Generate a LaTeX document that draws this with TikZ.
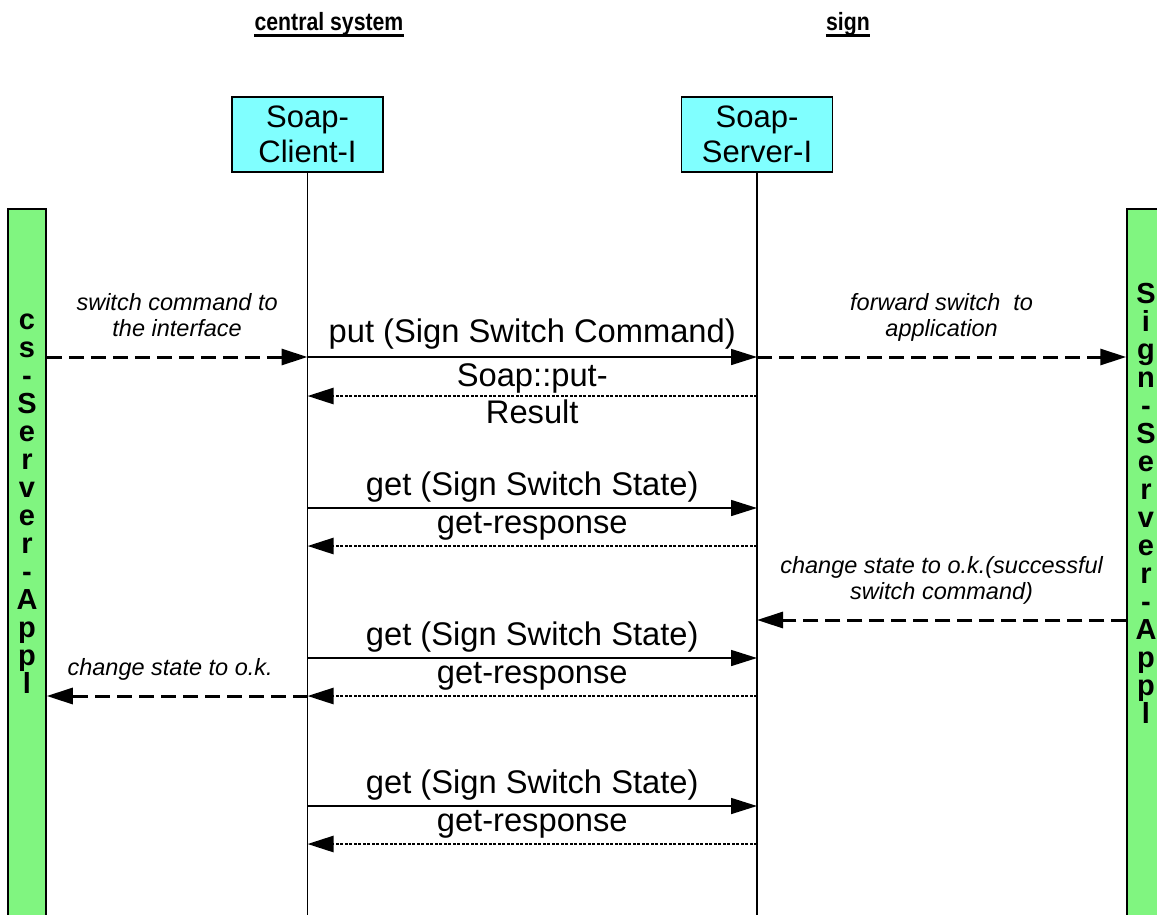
\documentclass[tikz,border=0pt]{standalone}
\usepackage{fontspec}
\setmainfont{Liberation Sans}
\newfontfamily\titlefont{Liberation Sans}[FakeStretch=0.85]
\usetikzlibrary{positioning,arrows.meta}
\definecolor{ifcyan}{RGB}{128,255,255}
\definecolor{appgreen}{RGB}{128,245,128}

\begin{document}
\begin{tikzpicture}[x=1pt, y=-1pt,
  ifbox/.style={draw, fill=ifcyan, line width=1.5pt, minimum width=151pt, minimum height=75pt, align=center, inner sep=0pt, font=\fontsize{31}{35}\selectfont},
  appbar/.style={draw, fill=appgreen, line width=1.5pt, minimum width=38pt, minimum height=760pt, anchor=north, inner sep=0pt},
  barletters/.style={align=center, inner sep=0pt, font=\bfseries\fontsize{29}{28}\selectfont},
  title/.style={anchor=base, inner sep=0pt, font=\titlefont\bfseries\fontsize{25}{27}\selectfont},
  titlerule/.style={line width=2.5pt},
  lifeline/.style={line width=1.6pt},
  call/.style={-{Triangle[length=26pt,width=16pt]}, line width=1.6pt},
  answer/.style={call, line width=2.5pt, dash pattern=on 3pt off 1.5pt},
  appmsg/.style={call, line width=3pt, dash pattern=on 15pt off 7pt},
  calltext/.style={midway, anchor=base, inner sep=0pt, font=\fontsize{32.7}{36}\selectfont},
  apptext/.style={midway, anchor=south, yshift=14pt, inner sep=0pt, align=center, font=\itshape\fontsize{23.5}{26}\selectfont}]
\useasboundingbox (0,0) rectangle (1157,914);
\clip (0,0) rectangle (1157,914);

% titles
\node[title] (tcentral) at (329,30) {central system};
\node[title] (tsign) at (848,30) {sign};
\draw[titlerule] (tcentral.south west) -- (tcentral.south east);
\draw[titlerule] (tsign.south west) -- (tsign.south east);

% interfaces and lifelines
\node[ifbox] (client) at (307.5,134.5) {Soap-\\Client-I};
\node[ifbox] (server) [right=297pt of client] {Soap-\\Server-I};
\coordinate (clientend) at (client.south |- 0,930);
\coordinate (serverend) at (server.south |- 0,930);
\draw[lifeline] (client) -- (clientend);
\draw[lifeline] (server) -- (serverend);

% applications
\node[appbar] (csapp) at (27,208) {};
\node[appbar] (signapp) at (1146,208) {};
\node[barletters] (csname) at (27,504) {c\\s\\-\\S\\e\\r\\v\\e\\r\\-\\A\\p\\p\\l};
\node[barletters] (signname) at (1146,503) {S\\i\\g\\n\\-\\S\\e\\r\\v\\e\\r\\-\\A\\p\\p\\l};

% switch command
\draw[appmsg] (csapp.east |- 0,357) -- node[apptext] (lswitch) {switch command to\\the interface\vphantom{p}} (client |- 0,357);
\draw[call] (client |- 0,357) -- node[calltext, yshift=15pt] (lput) {put (Sign Switch Command)} (server |- 0,357);
\draw[appmsg] (server |- 0,357) -- node[apptext] (lforward) {forward switch~ to\\application} (signapp.west |- 0,357);
\draw[answer] (server |- 0,396) -- node[calltext, yshift=10pt] (lres) {Soap::put-} node[calltext, yshift=-27pt] (lresult) {Result} (client |- 0,396);

% polling
\draw[call] (client |- 0,508) -- node[calltext, yshift=13pt] (lget1) {get (Sign Switch State)} (server |- 0,508);
\draw[answer] (server |- 0,546) -- node[calltext, yshift=13pt] (lresp1) {get-response} (client |- 0,546);
\draw[appmsg] (signapp.west |- 0,620) -- node[apptext] (lchange) {change state to o.k.(successful\\switch command)} (server |- 0,620);
\draw[call] (client |- 0,658) -- node[calltext, yshift=13pt] (lget2) {get (Sign Switch State)} (server |- 0,658);
\draw[answer] (server |- 0,696) -- node[calltext, yshift=13pt] (lresp2) {get-response} (client |- 0,696);
\draw[appmsg] (client |- 0,696) -- node[apptext, xshift=-7pt] (lok) {change state to o.k.} (csapp.east |- 0,696);
\draw[call] (client |- 0,806) -- node[calltext, yshift=13pt] (lget3) {get (Sign Switch State)} (server |- 0,806);
\draw[answer] (server |- 0,844) -- node[calltext, yshift=13pt] (lresp3) {get-response} (client |- 0,844);
\end{tikzpicture}
\end{document}
